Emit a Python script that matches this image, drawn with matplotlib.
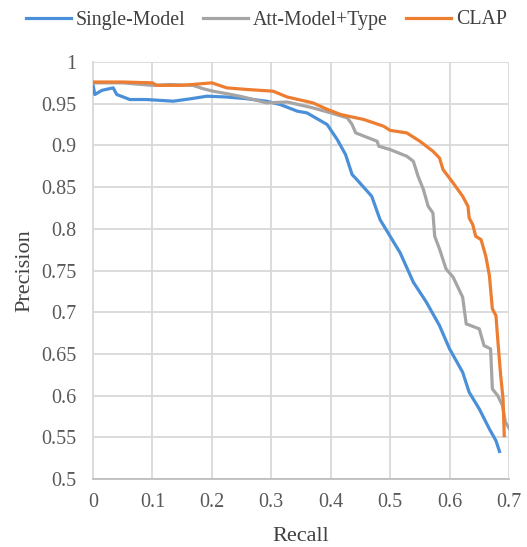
import matplotlib
matplotlib.use("Agg")
import matplotlib.pyplot as plt
import numpy as np

# Precision-recall curves, values
single_recall = [0.0, 0.003, 0.015, 0.034, 0.04, 0.062, 0.09, 0.135, 0.165, 0.192,
                 0.225, 0.258, 0.292, 0.315, 0.344, 0.36, 0.394, 0.411, 0.425, 0.436,
                 0.444, 0.469, 0.483, 0.517, 0.539, 0.561, 0.583, 0.6, 0.622, 0.633,
                 0.65, 0.667, 0.678, 0.684]
single_prec = [0.973, 0.961, 0.966, 0.969, 0.961, 0.955, 0.955, 0.953, 0.956, 0.959,
               0.958, 0.956, 0.953, 0.949, 0.941, 0.939, 0.925, 0.907, 0.889, 0.865,
               0.859, 0.839, 0.811, 0.771, 0.736, 0.712, 0.684, 0.656, 0.628, 0.604,
               0.584, 0.56, 0.546, 0.533]

att_recall = [0.0, 0.05, 0.1, 0.13, 0.168, 0.185, 0.202, 0.225, 0.247, 0.27, 0.292,
              0.327, 0.37, 0.4, 0.428, 0.436, 0.442, 0.478, 0.481, 0.5, 0.528, 0.539,
              0.547, 0.556, 0.564, 0.572, 0.575, 0.583, 0.594, 0.606, 0.622, 0.628,
              0.65, 0.658, 0.669, 0.672, 0.681, 0.689, 0.694, 0.7]
att_prec = [0.975, 0.975, 0.972, 0.973, 0.972, 0.968, 0.965, 0.962, 0.959, 0.955, 0.951,
            0.952, 0.945, 0.939, 0.933, 0.925, 0.915, 0.905, 0.899, 0.895, 0.887, 0.881,
            0.863, 0.847, 0.827, 0.819, 0.791, 0.776, 0.752, 0.742, 0.718, 0.686,
            0.68, 0.66, 0.656, 0.608, 0.6, 0.588, 0.568, 0.561]

clap_recall = [0.0, 0.05, 0.1, 0.107, 0.15, 0.2, 0.225, 0.26, 0.303, 0.327, 0.37, 0.395,
               0.417, 0.456, 0.489, 0.5, 0.528, 0.55, 0.572, 0.583, 0.589, 0.606, 0.622,
               0.631, 0.633, 0.639, 0.644, 0.653, 0.661, 0.667, 0.672, 0.678, 0.681,
               0.686, 0.69, 0.692]
clap_prec = [0.976, 0.976, 0.975, 0.972, 0.972, 0.975, 0.969, 0.967, 0.965, 0.958, 0.951,
             0.943, 0.937, 0.931, 0.923, 0.918, 0.915, 0.905, 0.893, 0.885, 0.871, 0.855,
             0.839, 0.827, 0.813, 0.805, 0.791, 0.787, 0.767, 0.744, 0.704, 0.696, 0.668,
             0.624, 0.596, 0.552]

x_ticks = [0, 0.1, 0.2, 0.3, 0.4, 0.5, 0.6, 0.7]
x_labels = ["0", "0.1", "0.2", "0.3", "0.4", "0.5", "0.6", "0.7"]
y_ticks = [0.5, 0.55, 0.6, 0.65, 0.7, 0.75, 0.8, 0.85, 0.9, 0.95, 1.0]
y_labels = ["0.5", "0.55", "0.6", "0.65", "0.7", "0.75", "0.8", "0.85", "0.9", "0.95", "1"]

plt.rcParams['font.family'] = ['Liberation Serif', 'DejaVu Serif']

fig = plt.figure(figsize=(5.27, 5.47), dpi=100)
ax = fig.add_axes([93 / 527, 1 - 479 / 547, 416 / 527, 417 / 547])

lw = 2.3
ax.plot(single_recall, single_prec, color='#4a90d9', lw=lw, label='Single-Model', zorder=3)
ax.plot(att_recall, att_prec, color='#a5a5a5', lw=lw, label='Att-Model+Type', zorder=4)
ax.plot(clap_recall, clap_prec, color='#ed7d31', lw=lw, label='CLAP', zorder=5)

ax.set_xlim(0, 0.7)
ax.set_ylim(0.5, 1.0)
ax.set_xticks(x_ticks)
ax.set_xticklabels(x_labels)
ax.set_yticks(y_ticks)
ax.set_yticklabels(y_labels)
ax.tick_params(length=0, labelsize=14.5, colors='#595959')
ax.tick_params(axis='y', pad=12)
ax.tick_params(axis='x', pad=10)

ax.grid(True, color='#d9d9d9', lw=1.3)
ax.set_axisbelow(True)
for side in ['top', 'right']:
    ax.spines[side].set_visible(False)
ax.spines['left'].set_color('#d9d9d9')
ax.spines['left'].set_linewidth(1.3)
ax.spines['bottom'].set_color('#bfbfbf')
ax.spines['bottom'].set_linewidth(1.3)

ax.set_xlabel("Recall", fontsize=16, color='#404040', labelpad=11)
ax.set_ylabel("Precision", fontsize=16, color='#404040', labelpad=5)

leg = fig.legend(loc='center', bbox_to_anchor=(0.505, 1 - 20 / 547), ncol=3, frameon=False,
                 fontsize=14.3, handlelength=2.26, handletextpad=0.25, columnspacing=0.9)
for t in leg.get_texts():
    t.set_color('#404040')

fig.savefig("out.png", dpi=100)
